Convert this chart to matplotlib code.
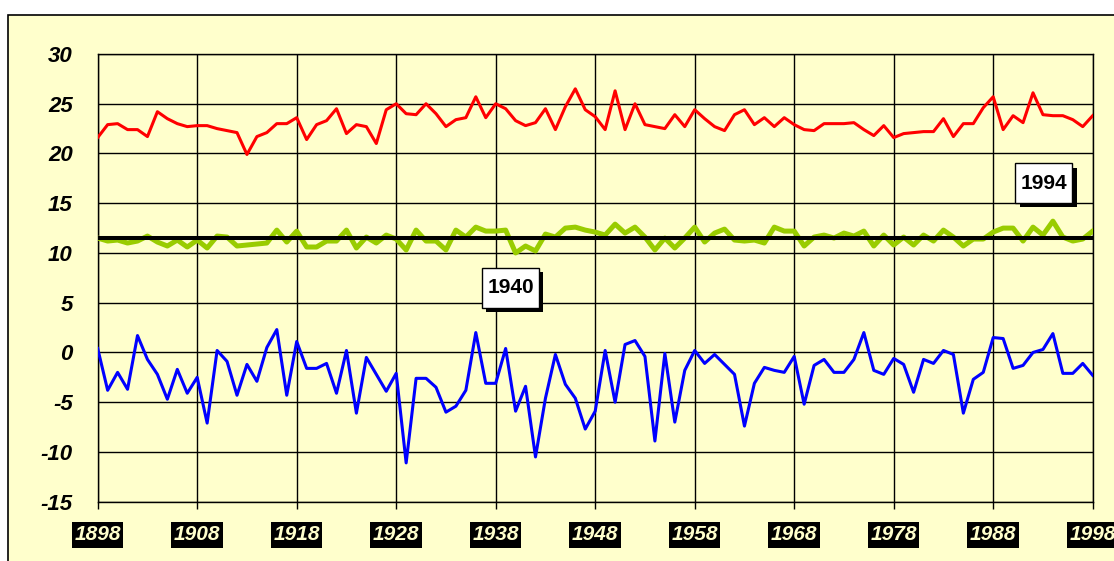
import numpy as np
import matplotlib
matplotlib.use("Agg")
import matplotlib.pyplot as plt
from matplotlib.patches import Rectangle
import matplotlib.patheffects as pe

plt.rcParams['font.family'] = ['Liberation Sans', 'DejaVu Sans']
plt.rcParams['axes.unicode_minus'] = False

years = np.arange(1898, 1999)

# top series (red)
red = [21.6, 22.9, 23.0, 22.4, 22.4, 21.7, 24.2, 23.5, 23.0, 22.7,
       22.8, 22.8, 22.5, 22.3, 22.1, 19.9, 21.7, 22.1, 23.0, 23.0,
       23.6, 21.4, 22.9, 23.3, 24.5, 22.0, 22.9, 22.7, 21.0, 24.4,
       25.0, 24.0, 23.9, 25.0, 24.0, 22.7, 23.4, 23.6, 25.7, 23.6,
       25.0, 24.5, 23.3, 22.8, 23.1, 24.5, 22.4, 24.7, 26.5, 24.4,
       23.7, 22.4, 26.3, 22.4, 25.0, 22.9, 22.7, 22.5, 23.9, 22.7,
       24.4, 23.5, 22.7, 22.3, 23.9, 24.4, 22.9, 23.6, 22.7, 23.6,
       22.9, 22.4, 22.3, 23.0, 23.0, 23.0, 23.1, 22.4, 21.8, 22.8,
       21.6, 22.0, 22.1, 22.2, 22.2, 23.5, 21.7, 23.0, 23.0, 24.6,
       25.7, 22.4, 23.8, 23.1, 26.1, 23.9, 23.8, 23.8, 23.4, 22.7,
       23.8]

# middle series (green)
green = [11.5, 11.2, 11.3, 11.0, 11.2, 11.7, 11.1, 10.7, 11.3, 10.6,
         11.3, 10.5, 11.7, 11.6, 10.7, 10.8, 10.9, 11.0, 12.3, 11.1,
         12.2, 10.6, 10.6, 11.2, 11.2, 12.3, 10.5, 11.6, 11.0, 11.8,
         11.4, 10.3, 12.3, 11.2, 11.2, 10.3, 12.3, 11.6, 12.6, 12.2,
         12.2, 12.3, 10.0, 10.7, 10.2, 11.9, 11.6, 12.5, 12.6, 12.3,
         12.1, 11.8, 12.9, 12.0, 12.6, 11.6, 10.3, 11.5, 10.5, 11.5,
         12.6, 11.1, 12.0, 12.4, 11.3, 11.2, 11.3, 11.0, 12.6, 12.2,
         12.2, 10.7, 11.6, 11.8, 11.5, 12.0, 11.7, 12.2, 10.7, 11.8,
         10.8, 11.6, 10.8, 11.8, 11.2, 12.3, 11.6, 10.7, 11.4, 11.4,
         12.1, 12.5, 12.5, 11.2, 12.6, 11.8, 13.2, 11.6, 11.2, 11.4,
         12.2]

# bottom series (blue)
blue = [0.4, -3.8, -2.0, -3.7, 1.7, -0.7, -2.2, -4.7, -1.7, -4.1,
        -2.5, -7.1, 0.2, -0.9, -4.3, -1.2, -2.9, 0.5, 2.3, -4.3,
        1.1, -1.6, -1.6, -1.1, -4.1, 0.2, -6.1, -0.5, -2.2, -3.9,
        -2.1, -11.1, -2.6, -2.6, -3.5, -6.0, -5.4, -3.8, 2.0, -3.1,
        -3.1, 0.4, -5.9, -3.4, -10.5, -4.6, -0.2, -3.2, -4.6, -7.7,
        -5.9, 0.2, -5.0, 0.8, 1.2, -0.4, -8.9, -0.1, -7.0, -1.8,
        0.2, -1.1, -0.2, -1.2, -2.2, -7.4, -3.1, -1.5, -1.8, -2.0,
        -0.4, -5.2, -1.3, -0.7, -2.0, -2.0, -0.7, 2.0, -1.8, -2.2,
        -0.6, -1.2, -4.0, -0.7, -1.1, 0.2, -0.2, -6.1, -2.7, -2.0,
        1.5, 1.4, -1.6, -1.3, 0.0, 0.3, 1.9, -2.1, -2.1, -1.1,
        -2.3]

green_mean = 11.5
xticks = list(range(1898, 1999, 10))
yticks = list(range(-15, 31, 5))
notes = [("1994", 1993.1, 17.0), ("1940", 1939.5, 6.5)]

bg = '#FFFFCC'
fig = plt.figure(figsize=(11.14, 5.61), dpi=100)
fig.patch.set_facecolor('white')
# outer chart frame
fig.patches.append(Rectangle((8 / 1114, -0.2), 1.2, 1.2 - 15 / 561,
                             transform=fig.transFigure, facecolor=bg,
                             edgecolor='black', linewidth=1.2, zorder=-5))

ax = fig.add_axes([97.7 / 1114, 1 - 501.7 / 561, 995 / 1114, 447.7 / 561])
ax.set_facecolor(bg)

ax.plot(years, red, color='#FF0000', lw=2.2, zorder=3)
ax.plot(years, green, color='#99CC00', lw=3.6, zorder=3)
ax.axhline(green_mean, color='black', lw=2.9, zorder=4)
ax.plot(years, blue, color='#0000FF', lw=2.2, zorder=3)

ax.set_xlim(1898, 1998)
ax.set_ylim(-15, 30)
ax.set_xticks(xticks)
ax.set_yticks(yticks)
ax.grid(True, color='black', lw=1, zorder=1)
ax.set_axisbelow(True)
for s in ax.spines.values():
    s.set_color('black')
    s.set_linewidth(1)

ax.tick_params(axis='y', length=0, pad=18, labelsize=16)
ax.tick_params(axis='x', length=5, width=1, direction='out', pad=12,
               labelsize=15)
for lab in ax.get_yticklabels():
    lab.set_fontweight('bold')
    lab.set_fontstyle('italic')
for lab in ax.get_xticklabels():
    lab.set_fontweight('bold')
    lab.set_fontstyle('italic')
    lab.set_color(bg)
    lab.set_bbox(dict(boxstyle='square,pad=0.12', facecolor='black',
                      edgecolor='none', mutation_aspect=1.4))
    lab.set_clip_on(False)

for txt, xv, yv in notes:
    t = ax.text(xv, yv, txt, ha='center', va='center', fontsize=15,
                fontweight='bold', color='black', zorder=6,
                bbox=dict(boxstyle='square,pad=0.25', facecolor='white',
                          edgecolor='black', linewidth=1,
                          mutation_aspect=2))
    t.get_bbox_patch().set_path_effects([
        pe.SimplePatchShadow(offset=(3, -3), shadow_rgbFace='black', alpha=1),
        pe.Normal()])

fig.savefig('out.png', dpi=100, facecolor='white')
